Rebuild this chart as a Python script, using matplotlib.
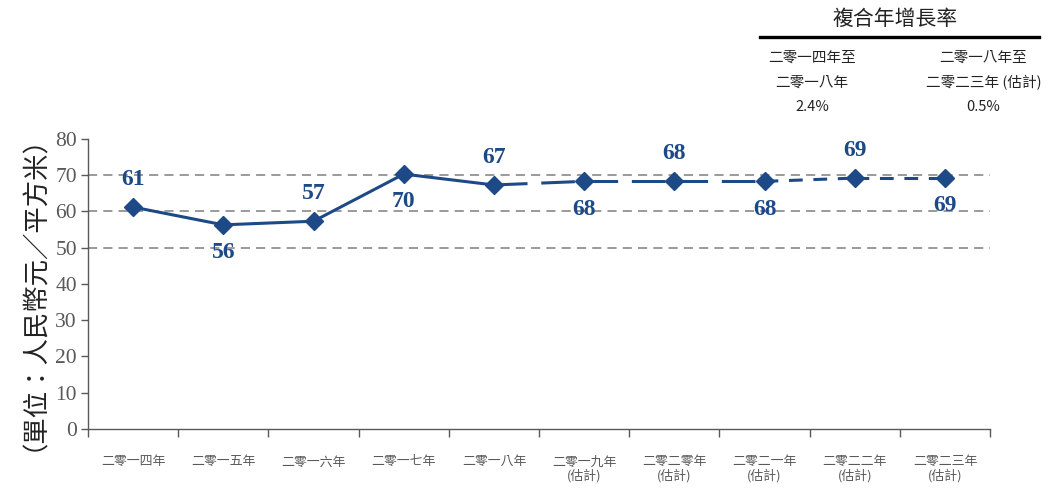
import matplotlib.pyplot as plt
import numpy as np

plt.rcParams['font.family'] = ['Noto Sans CJK TC', 'DejaVu Sans']

years = ['二零一四年', '二零一五年', '二零一六年', '二零一七年', '二零一八年',
         '二零一九年\n(估計)', '二零二零年\n(估計)', '二零二一年\n(估計)',
         '二零二二年\n(估計)', '二零二三年\n(估計)']
values = [61.2, 56.3, 57.3, 70.3, 67.3, 68.3, 68.3, 68.3, 69.2, 69.2]
labels = ['61', '56', '57', '70', '67', '68', '68', '68', '69', '69']
label_pos = ['above', 'below', 'above', 'below', 'above',
             'below', 'above', 'below', 'above', 'below']
cagr_left = ['二零一四年至', '二零一八年', '2.4%']
cagr_right = ['二零一八年至', '二零二三年 (估計)', '0.5%']

navy = '#1d4a86'
gray = '#595959'

fig = plt.figure(figsize=(10.48, 4.88), dpi=100)
ax = fig.add_axes([0.084, 0.121, 0.8607, 0.5943])

x = np.arange(len(values))

# actual years: solid
ax.plot(x[:5], values[:5], '-', color=navy, lw=2.2, zorder=3)
# forecast: long dashes then short dashes
for i in range(4, 9):
    if i < 7:
        ls = (0, (11, 4.5))
    else:
        ls = (0, (4.5, 3.5))
    ax.plot(x[i:i+2], values[i:i+2], linestyle=ls, color=navy, lw=2.2, zorder=3)
ax.plot(x, values, 'D', color=navy, markersize=9, zorder=4)

for xi, v, lab, p in zip(x, values, labels, label_pos):
    dy = 20 if p == 'above' else -20
    ax.annotate(lab, (xi, v), xytext=(0, dy), textcoords='offset points',
                ha='center', va='center', fontsize=17, fontweight='bold',
                color=navy, family='Liberation Serif', zorder=5)

for g in [50, 60, 70]:
    ax.axhline(g, color='#7f7f7f', lw=1.1, dashes=(6, 4), zorder=1)

ax.set_xlim(-0.5, len(values) - 0.5)
ax.set_ylim(0, 80)
ax.set_yticks(range(0, 81, 10))
ax.set_yticklabels([str(t) for t in range(0, 81, 10)], family='Liberation Serif',
                   fontsize=15.5, color=gray)
ax.tick_params(axis='y', length=5, width=1, color=gray, pad=3)

ax.set_xticks(x)
ax.set_xticklabels(years, fontsize=9.3, color=gray, linespacing=1.0)
ax.tick_params(axis='x', which='major', length=0, pad=19)
ax.set_xticks(np.arange(-0.5, len(values)), minor=True)
ax.tick_params(axis='x', which='minor', length=6, width=1, color=gray)

for s in ['top', 'right']:
    ax.spines[s].set_visible(False)
for s in ['left', 'bottom']:
    ax.spines[s].set_color(gray)
    ax.spines[s].set_linewidth(1)

fig.text(0.02, 0.428, '（單位：人民幣元／平方米）', rotation=90, ha='center',
         va='center', fontsize=19, color='#222222')

# CAGR box
fig.text(0.854, 0.962, '複合年增長率', ha='center', va='center', fontsize=15,
         color='#222222')
fig.add_artist(plt.Line2D([0.725, 0.991], [0.924, 0.924], color='black', lw=2.4))
for k in range(3):
    yy = 0.881 - k * 0.0505
    fig.text(0.775, yy, cagr_left[k], ha='center', va='center',
             fontsize=10.5, color='#222222')
    fig.text(0.9385, yy, cagr_right[k], ha='center', va='center',
             fontsize=10.5, color='#222222')

fig.savefig('out.png', dpi=100)
